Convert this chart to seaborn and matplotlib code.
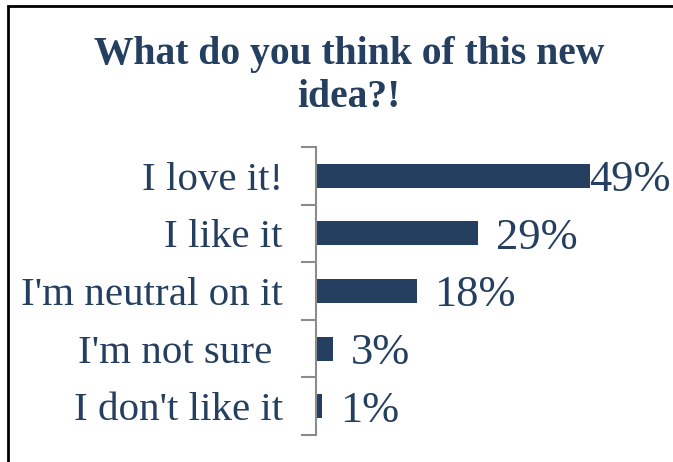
import matplotlib
matplotlib.use("Agg")
import matplotlib.pyplot as plt
from matplotlib.patches import Rectangle
from matplotlib.ticker import FixedLocator
import seaborn as sns
import pandas as pd

categories = ["I love it!", "I like it", "I'm neutral on it", "I'm not sure ", "I don't like it"]
values = [49, 29, 18, 3, 1]
value_labels = ["49%", "29%", "18%", "3%", "1%"]
title = "What do you think of this new\nidea?!"

navy = "#243F60"
text_color = "#243F60"
axis_gray = "#8C8C8C"

sns.set_theme(style="white")
plt.rcParams["font.family"] = ["Liberation Serif", "DejaVu Serif"]

df = pd.DataFrame({"category": categories, "value": values})

W, H = 673, 462
fig = plt.figure(figsize=(W / 100, H / 100), dpi=100)
ax = fig.add_axes([316 / W, 1 - 435 / H, (651 - 316) / W, (435 - 147) / H])

sns.barplot(data=df, x="value", y="category", order=categories, color=navy,
            width=0.42, saturation=1, ax=ax, edgecolor="none")

ax.set_xlim(0, 60)
ax.set_ylim(len(categories) - 0.5, -0.5)
ax.set_xlabel("")
ax.set_ylabel("")
ax.set_xticks([])

for s in ["top", "right", "bottom"]:
    ax.spines[s].set_visible(False)
ax.spines["left"].set_color(axis_gray)
ax.spines["left"].set_linewidth(1.5)

ax.yaxis.set_minor_locator(FixedLocator([i - 0.5 for i in range(len(categories) + 1)]))
ax.tick_params(axis="y", which="major", length=0, pad=24, labelsize=29.5, labelcolor=text_color)
ax.tick_params(axis="y", which="minor", length=11, width=1.5, color=axis_gray, direction="out", left=True)

xmax = max(values)
for i, (v, lab) in enumerate(zip(values, value_labels)):
    pad = 0 if v == xmax else 13
    ax.annotate(lab, xy=(v, i), xytext=(pad, 0), textcoords="offset points",
                ha="left", va="center_baseline", fontsize=32, color=text_color, annotation_clip=False)

fig.text(349 / W, 1 - 36 / H, title, ha="center", va="top", fontsize=28.5,
         fontweight="bold", color=text_color, linespacing=1.2)

# chart border (top and left visible, right/bottom cut off)
fig.patches.append(Rectangle((8 / W, -0.05), 1.2, 1 - 6 / H + 0.05, transform=fig.transFigure,
                             fill=False, edgecolor="black", linewidth=2, figure=fig))

fig.savefig("out.png", dpi=100)
